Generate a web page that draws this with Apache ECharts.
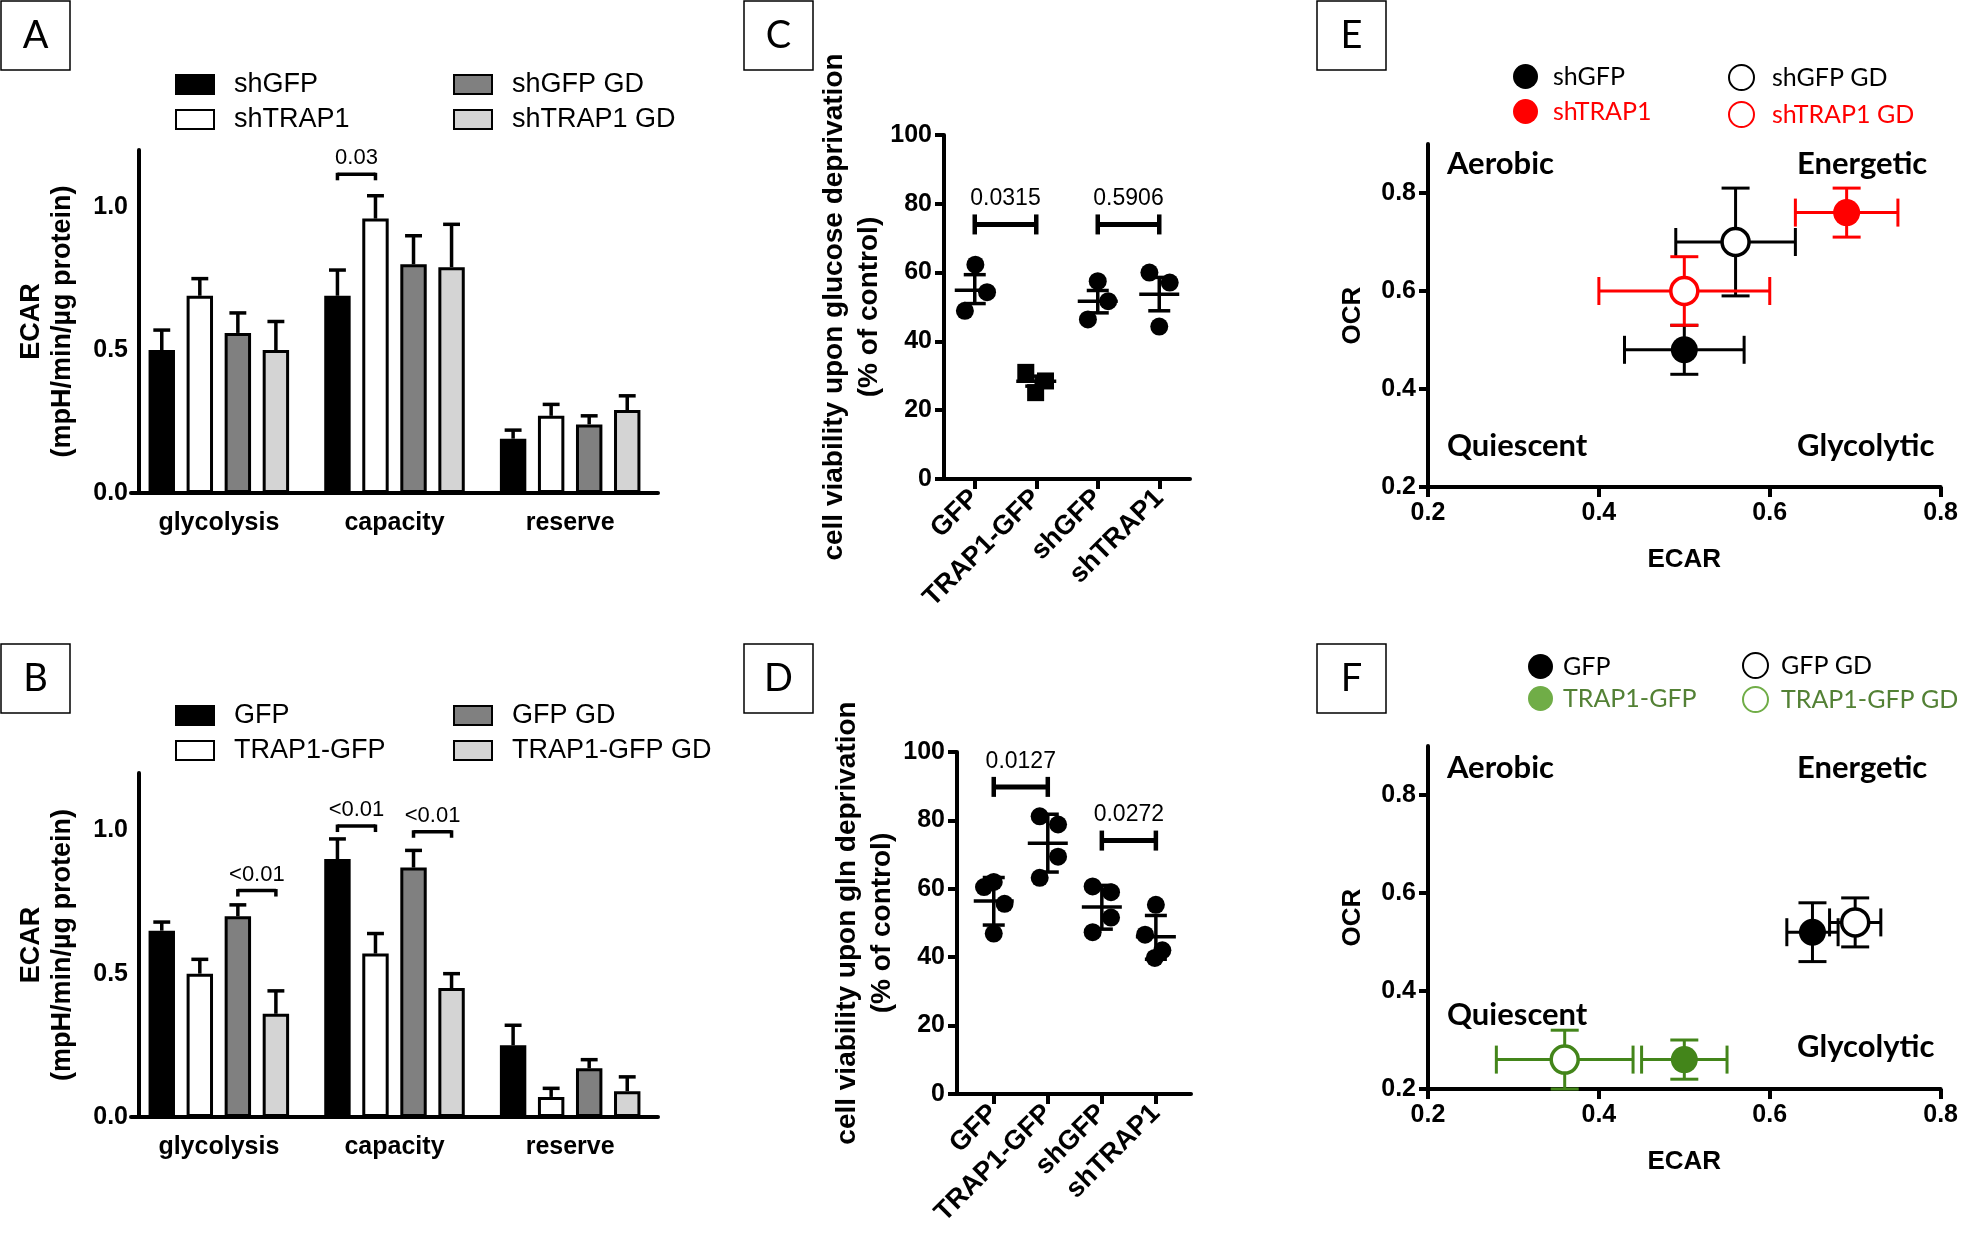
<!DOCTYPE html>
<html><head><meta charset="utf-8">
<script src="https://cdn.jsdelivr.net/npm/echarts@6/dist/echarts.min.js"></script>
<style>html,body{margin:0;padding:0;background:#fff}#c{width:1961px;height:1237px}</style>
</head><body><div id="c"></div>
<script>
// ---------------- DATA ----------------
const barCategories = ['glycolysis', 'capacity', 'reserve'];
// Panel A
const aNames = ['shGFP', 'shTRAP1', 'shGFP GD', 'shTRAP1 GD'];
const aMeans = [[0.50, 0.69, 0.19], [0.69, 0.96, 0.27], [0.56, 0.80, 0.24], [0.50, 0.79, 0.29]];
const aErrors = [[0.07, 0.09, 0.03], [0.06, 0.08, 0.04], [0.07, 0.10, 0.03], [0.10, 0.15, 0.05]];
const aSigPairs = [[1, 0, 1, 1.115]];          // [category, bar1, bar2, y]
const aSigLabels = ['0.03'];
// Panel B
const bNames = ['GFP', 'TRAP1-GFP', 'GFP GD', 'TRAP1-GFP GD'];
const bMeans = [[0.65, 0.90, 0.25], [0.50, 0.57, 0.07], [0.70, 0.87, 0.17], [0.36, 0.45, 0.09]];
const bErrors = [[0.03, 0.07, 0.07], [0.05, 0.07, 0.03], [0.04, 0.06, 0.03], [0.08, 0.05, 0.05]];
const bSigPairs = [[0, 2, 3, 0.79], [1, 0, 1, 1.015], [1, 2, 3, 0.995]];
const bSigLabels = ['<0.01', '<0.01', '<0.01'];
// Panel C
const cCategories = ['GFP', 'TRAP1-GFP', 'shGFP', 'shTRAP1'];
const cValues = [[62.3, 54.3, 48.9], [31.0, 28.5, 25.1], [57.5, 51.7, 46.4], [60.0, 57.1, 44.3]];
const cJitter = [[0.01, 0.20, -0.16], [-0.17, 0.15, -0.01], [0.0, 0.17, -0.16], [-0.16, 0.17, 0.0]];
const cMeans = [54.9, 28.4, 51.7, 53.7];
const cLow = [51.0, 27.0, 48.3, 48.9];
const cHigh = [59.4, 29.9, 54.8, 58.6];
const cSigPairs = [[1, 2, 74], [3, 4, 74]];
const cSigLabels = ['0.0315', '0.5906'];
// Panel D
const dCategories = ['GFP', 'TRAP1-GFP', 'shGFP', 'shTRAP1'];
const dValues = [[60.5, 62.0, 55.6, 46.9], [81.2, 78.8, 69.4, 63.2], [60.7, 59.0, 51.6, 47.3], [55.3, 46.6, 42.0, 39.8]];
const dJitter = [[-0.18, 0.0, 0.2, 0.0], [-0.15, 0.19, 0.19, -0.15], [-0.17, 0.17, 0.17, -0.17], [0.0, -0.2, 0.12, -0.02]];
const dMeans = [56.4, 73.3, 54.7, 46.0];
const dLow = [49.4, 64.9, 48.2, 39.4];
const dHigh = [63.3, 81.8, 61.0, 52.2];
const dSigPairs = [[1, 2, 89.8], [3, 4, 74.1]];
const dSigLabels = ['0.0127', '0.0272'];
// Panel E
const eNames = ['shGFP', 'shTRAP1', 'shGFP GD', 'shTRAP1 GD'];
const eEcar = [0.50, 0.69, 0.56, 0.50];
const eOcr = [0.48, 0.76, 0.70, 0.60];
const eEcarErr = [0.07, 0.06, 0.07, 0.10];
const eOcrErr = [0.05, 0.05, 0.11, 0.07];
// Panel F
const fNames = ['GFP', 'TRAP1-GFP', 'GFP GD', 'TRAP1-GFP GD'];
const fEcar = [0.65, 0.50, 0.70, 0.36];
const fOcr = [0.52, 0.26, 0.54, 0.26];
const fEcarErr = [0.03, 0.05, 0.03, 0.08];
const fOcrErr = [0.06, 0.04, 0.05, 0.06];
const quadrantLabels = ['Aerobic', 'Energetic', 'Quiescent', 'Glycolytic'];

// ---------------- STYLE ----------------
const FONT = 'Liberation Sans';
const QFONT = 'Lato';
const barColors = ['#000000', '#ffffff', '#808080', '#d4d4d4'];
const RED = '#ff0000', GREEN = '#43851a', GREEN_L = '#70ad47', GREEN_T = '#538135';
const strip = n => n.split('|')[1];

const chart = echarts.init(document.getElementById('c'), null, {renderer: 'canvas', width: 1961, height: 1237});

const axisLine = {lineStyle: {color: '#000', width: 4}};
const axisTick = (len) => ({length: len, lineStyle: {color: '#000', width: 4}});
const lbl = (size, extra) => Object.assign({color: '#000', fontFamily: FONT, fontWeight: 'bold', fontSize: size}, extra || {});

const grids = [
  {left: 131, top: 150, width: 527, height: 343},
  {left: 131, top: 773, width: 527, height: 344},
  {left: 944, top: 135, width: 246, height: 344},
  {left: 957, top: 752, width: 234, height: 342},
  {left: 1428, top: 144, width: 514, height: 343},
  {left: 1428, top: 746, width: 514, height: 343}
];

function catX(gi) {
  return {type: 'category', gridIndex: gi, data: barCategories, boundaryGap: true,
    axisLine, axisTick: Object.assign(axisTick(10), {alignWithLabel: true}),
    axisLabel: lbl(25, {margin: 18}), splitLine: {show: false}};
}
function ecarY(gi) {
  return {type: 'value', gridIndex: gi, min: 0, max: 1.2, offset: -8,
    name: 'ECAR\n(mpH/min/µg protein)', nameLocation: 'middle', nameRotate: 90, nameGap: 61,
    nameTextStyle: lbl(27, {lineHeight: 31}),
    axisLine: Object.assign({show: true}, axisLine),
    axisTick: Object.assign(axisTick(8), {customValues: [0, 0.5, 1.0]}),
    axisLabel: lbl(25, {margin: 11, customValues: [0, 0.5, 1.0], formatter: v => v.toFixed(1)}),
    splitLine: {show: false}};
}
function viaX(gi, min, max, cats) {
  return {type: 'value', gridIndex: gi, min, max,
    axisLine, axisTick: Object.assign(axisTick(10), {customValues: [1, 2, 3, 4]}),
    axisLabel: lbl(27, {rotate: 45, margin: 15, customValues: [1, 2, 3, 4], formatter: v => cats[Math.round(v) - 1]}),
    splitLine: {show: false}};
}
function viaY(gi, name, gap) {
  return {type: 'value', gridIndex: gi, min: 0, max: 100, interval: 20,
    name, nameLocation: 'middle', nameRotate: 90, nameGap: gap,
    nameTextStyle: lbl(28, {lineHeight: 35}),
    axisLine: Object.assign({show: true}, axisLine), axisTick: axisTick(9),
    axisLabel: lbl(25, {margin: 12}), splitLine: {show: false}};
}
function phX(gi) {
  return {type: 'value', gridIndex: gi, min: 0.2, max: 0.8, interval: 0.2,
    name: 'ECAR', nameLocation: 'middle', nameGap: 60, nameTextStyle: lbl(26),
    axisLine, axisTick: axisTick(10),
    axisLabel: lbl(25, {margin: 14, formatter: v => v.toFixed(1)}), splitLine: {show: false}};
}
function phY(gi) {
  return {type: 'value', gridIndex: gi, min: 0.2, max: 0.9,
    name: 'OCR', nameLocation: 'middle', nameRotate: 90, nameGap: 62, nameTextStyle: lbl(26),
    axisLine: Object.assign({show: true}, axisLine),
    axisTick: Object.assign(axisTick(9), {customValues: [0.2, 0.4, 0.6, 0.8]}),
    axisLabel: lbl(25, {margin: 12, customValues: [0.2, 0.4, 0.6, 0.8], formatter: v => v.toFixed(1)}),
    splitLine: {show: false}};
}

// ------------ renderers ------------
const BAR_GAP = 0.44, CAT_GAP = 0.2;
function barCenter(api, c, s) {
  const B = api.size([1, 0])[0];
  const w = (1 - CAT_GAP) * B / (4 + 3 * BAR_GAP);
  return {x: api.coord([c, 0])[0] - (1 - CAT_GAP) / 2 * B + w / 2 + s * (1 + BAR_GAP) * w, w};
}
function renderBarErr(params, api) {
  const c = api.value(0), s = api.value(1), v = api.value(2), t = api.value(3);
  const bc = barCenter(api, c, s);
  const y1 = api.coord([c, v])[1], y2 = api.coord([c, t])[1];
  const cw = 0.32 * bc.w;
  const st = {stroke: '#000', lineWidth: 3.5};
  return {type: 'group', children: [
    {type: 'line', shape: {x1: bc.x, y1: y1, x2: bc.x, y2: y2}, style: st},
    {type: 'line', shape: {x1: bc.x - cw, y1: y2, x2: bc.x + cw, y2: y2}, style: st}
  ]};
}
function makeBarSig(labels) {
  return function (params, api) {
    const c = api.value(0), s1 = api.value(1), s2 = api.value(2), y = api.value(3);
    const p1 = barCenter(api, c, s1), p2 = barCenter(api, c, s2);
    const py = api.coord([c, y])[1];
    const st = {stroke: '#000', lineWidth: 3.5};
    return {type: 'group', children: [
      {type: 'line', shape: {x1: p1.x, y1: py, x2: p2.x, y2: py}, style: st},
      {type: 'line', shape: {x1: p1.x, y1: py - 1.5, x2: p1.x, y2: py + 6}, style: st},
      {type: 'line', shape: {x1: p2.x, y1: py - 1.5, x2: p2.x, y2: py + 6}, style: st},
      {type: 'text', x: (p1.x + p2.x) / 2, y: py - 5, style: {text: labels[params.dataIndex], fill: '#000',
        font: '22px "Liberation Sans"', align: 'center', verticalAlign: 'bottom'}}
    ]};
  };
}
function renderMean(params, api) {
  const x = api.value(0);
  const pm = api.coord([x, api.value(1)]), pl = api.coord([x, api.value(2)]), ph = api.coord([x, api.value(3)]);
  const st = {stroke: '#000', lineWidth: 3.5};
  return {type: 'group', children: [
    {type: 'line', shape: {x1: pm[0], y1: pl[1], x2: pm[0], y2: ph[1]}, style: st},
    {type: 'line', shape: {x1: pm[0] - 20, y1: pm[1], x2: pm[0] + 20, y2: pm[1]}, style: st},
    {type: 'line', shape: {x1: pm[0] - 11, y1: pl[1], x2: pm[0] + 11, y2: pl[1]}, style: st},
    {type: 'line', shape: {x1: pm[0] - 11, y1: ph[1], x2: pm[0] + 11, y2: ph[1]}, style: st}
  ]};
}
function makeViaSig(labels) {
  return function (params, api) {
    const p1 = api.coord([api.value(0), api.value(2)]), p2 = api.coord([api.value(1), api.value(2)]);
    const st = {stroke: '#000', lineWidth: 5};
    return {type: 'group', children: [
      {type: 'line', shape: {x1: p1[0], y1: p1[1], x2: p2[0], y2: p2[1]}, style: st},
      {type: 'line', shape: {x1: p1[0], y1: p1[1] - 10, x2: p1[0], y2: p1[1] + 10}, style: {stroke: '#000', lineWidth: 4.5}},
      {type: 'line', shape: {x1: p2[0], y1: p2[1] - 10, x2: p2[0], y2: p2[1] + 10}, style: {stroke: '#000', lineWidth: 4.5}},
      {type: 'text', x: (p1[0] + p2[0]) / 2, y: p1[1] - 14, style: {text: labels[params.dataIndex], fill: '#000',
        font: '23px "Liberation Sans"', align: 'center', verticalAlign: 'bottom'}}
    ]};
  };
}
function makeXYErr(color) {
  return function (params, api) {
    const x = api.value(0), y = api.value(1), xe = api.value(2), ye = api.value(3);
    const l = api.coord([x - xe, y]), r = api.coord([x + xe, y]), t = api.coord([x, y + ye]), b = api.coord([x, y - ye]);
    const st = {stroke: color, lineWidth: 3};
    const cap = 14;
    return {type: 'group', children: [
      {type: 'line', shape: {x1: l[0], y1: l[1], x2: r[0], y2: r[1]}, style: st},
      {type: 'line', shape: {x1: t[0], y1: t[1], x2: b[0], y2: b[1]}, style: st},
      {type: 'line', shape: {x1: l[0], y1: l[1] - cap, x2: l[0], y2: l[1] + cap}, style: st},
      {type: 'line', shape: {x1: r[0], y1: r[1] - cap, x2: r[0], y2: r[1] + cap}, style: st},
      {type: 'line', shape: {x1: t[0] - cap, y1: t[1], x2: t[0] + cap, y2: t[1]}, style: st},
      {type: 'line', shape: {x1: b[0] - cap, y1: b[1], x2: b[0] + cap, y2: b[1]}, style: st}
    ]};
  };
}

// ------------ series ------------
const series = [];
function addBars(prefix, names, means, errs, gi, sigPairs, sigLabels) {
  names.forEach((n, s) => {
    series.push({type: 'bar', name: prefix + '|' + n, xAxisIndex: gi, yAxisIndex: gi, data: means[s],
      barGap: (BAR_GAP * 100) + '%', barCategoryGap: (CAT_GAP * 100) + '%',
      itemStyle: {color: barColors[s], borderColor: '#000', borderWidth: 3}, silent: true, z: 2});
  });
  const ed = [];
  names.forEach((n, s) => means[s].forEach((v, c) => ed.push([c, s, v, v + errs[s][c]])));
  series.push({type: 'custom', xAxisIndex: gi, yAxisIndex: gi, data: ed, encode: {x: 0, y: 3}, renderItem: renderBarErr, silent: true, z: 3});
  series.push({type: 'custom', xAxisIndex: gi, yAxisIndex: gi, data: sigPairs, encode: {x: 0, y: 3}, renderItem: makeBarSig(sigLabels), silent: true, z: 3});
}
addBars('A', aNames, aMeans, aErrors, 0, aSigPairs, aSigLabels);
addBars('B', bNames, bMeans, bErrors, 1, bSigPairs, bSigLabels);

function addVia(values, jitter, means, lo, hi, gi, sigPairs, sigLabels, squareGroup) {
  const pts = [];
  values.forEach((g, i) => g.forEach((v, j) => pts.push({value: [i + 1 + jitter[i][j], v],
    symbol: i === squareGroup ? 'rect' : 'circle', symbolSize: i === squareGroup ? 17 : 18})));
  series.push({type: 'scatter', xAxisIndex: gi, yAxisIndex: gi, data: pts, itemStyle: {color: '#000', opacity: 1}, silent: true, z: 2});
  series.push({type: 'custom', xAxisIndex: gi, yAxisIndex: gi, data: means.map((m, i) => [i + 1, m, lo[i], hi[i]]),
    encode: {x: 0, y: [1, 2, 3]}, renderItem: renderMean, silent: true, z: 3});
  series.push({type: 'custom', xAxisIndex: gi, yAxisIndex: gi, data: sigPairs, encode: {x: [0, 1], y: 2},
    renderItem: makeViaSig(sigLabels), silent: true, z: 3});
}
addVia(cValues, cJitter, cMeans, cLow, cHigh, 2, cSigPairs, cSigLabels, 1);
addVia(dValues, dJitter, dMeans, dLow, dHigh, 3, dSigPairs, dSigLabels, -1);

function addPheno(prefix, names, xs, ys, xe, ye, gi, styles) {
  names.forEach((n, i) => {
    const st = styles[i];
    series.push({type: 'custom', xAxisIndex: gi, yAxisIndex: gi, data: [[xs[i], ys[i], xe[i], ye[i]]],
      encode: {x: 0, y: 1}, renderItem: makeXYErr(st.line), silent: true, z: 2 + i * 2});
    series.push({type: 'scatter', name: prefix + '|' + n, xAxisIndex: gi, yAxisIndex: gi, data: [[xs[i], ys[i]]],
      symbol: 'circle', symbolSize: 27,
      itemStyle: st.open ? {color: '#fff', borderColor: st.line, borderWidth: 3.5, opacity: 1} : {color: st.fill, borderWidth: 0, opacity: 1},
      silent: true, z: 3 + i * 2});
  });
}
addPheno('E', eNames, eEcar, eOcr, eEcarErr, eOcrErr, 4, [
  {fill: '#000', line: '#000'}, {fill: RED, line: RED}, {open: true, line: '#000'}, {open: true, line: RED}]);
addPheno('F', fNames, fEcar, fOcr, fEcarErr, fOcrErr, 5, [
  {fill: '#000', line: '#000'}, {fill: GREEN, line: GREEN}, {open: true, line: '#000'}, {open: true, line: GREEN}]);

// ------------ legends ------------
function barLegend(left, top, names, prefix, pad) {
  return {orient: 'vertical', left, top, padding: 0, icon: 'rect', itemWidth: 38, itemHeight: 19, itemGap: 8,
    selectedMode: false, formatter: strip, data: names.map(n => prefix + '|' + n),
    textStyle: {fontFamily: FONT, fontSize: 27, color: '#000', lineHeight: 26, padding: [0, 0, 0, pad]}};
}
function dotLegend(left, top, gap, items, pad) {
  return {orient: 'vertical', left, top, padding: 0, itemWidth: 25, itemHeight: 25, itemGap: gap,
    selectedMode: false, formatter: strip, data: items,
    itemStyle: {opacity: 1},
    textStyle: {fontFamily: QFONT, fontSize: 25, color: '#000', lineHeight: 25, padding: [0, 0, 0, pad]}};
}
const legends = [
  barLegend(175, 71, aNames.slice(0, 2), 'A', 15),
  barLegend(453, 71, aNames.slice(2), 'A', 15),
  barLegend(175, 702, bNames.slice(0, 2), 'B', 15),
  barLegend(453, 702, bNames.slice(2), 'B', 15),
  dotLegend(1513, 64, 10, [{name: 'E|shGFP'}, {name: 'E|shTRAP1', textStyle: {color: RED}}], 10),
  dotLegend(1728, 64, 10, [{name: 'E|shGFP GD'}, {name: 'E|shTRAP1 GD', textStyle: {color: RED}}], 13),
  dotLegend(1528, 654, 7, [{name: 'F|GFP'}, {name: 'F|TRAP1-GFP', itemStyle: {color: GREEN_L}, textStyle: {color: GREEN_T}}], 5),
  dotLegend(1742, 652, 7, [{name: 'F|GFP GD'}, {name: 'F|TRAP1-GFP GD', itemStyle: {borderColor: GREEN_L}, textStyle: {color: GREEN_T}}], 8)
];

// ------------ graphic (panel boxes, quadrant labels) ------------
function box(letter, x, y) {
  return {type: 'group', x, y, children: [
    {type: 'rect', shape: {x: 0, y: 0, width: 69, height: 69}, style: {fill: 'none', stroke: '#000', lineWidth: 1.5}},
    {type: 'text', x: 34.5, y: 35, style: {text: letter, fill: '#000', font: '38px Lato', align: 'center', verticalAlign: 'middle'}}
  ]};
}
function quad(text, x, y) {
  return {type: 'text', x, y, style: {text, fill: '#000', font: 'bold 31px Lato', align: 'left', verticalAlign: 'middle'}};
}
const graphic = [
  box('A', 1, 1), box('B', 1, 644), box('C', 744, 1), box('D', 744, 644), box('E', 1317, 1), box('F', 1317, 644),
  quad(quadrantLabels[0], 1447, 164), quad(quadrantLabels[1], 1797, 164), quad(quadrantLabels[2], 1447, 446), quad(quadrantLabels[3], 1797, 446),
  quad(quadrantLabels[0], 1447, 768), quad(quadrantLabels[1], 1797, 768), quad(quadrantLabels[2], 1447, 1015), quad(quadrantLabels[3], 1797, 1047)
];

chart.setOption({
  animation: false,
  backgroundColor: '#fff',
  textStyle: {fontFamily: FONT},
  grid: grids,
  xAxis: [catX(0), catX(1), viaX(2, 0.5, 4.5, cCategories), viaX(3, 0.32, 4.65, dCategories), phX(4), phX(5)],
  yAxis: [ecarY(0), ecarY(1),
    viaY(2, 'cell viability upon glucose deprivation\n(% of control)', 36),
    viaY(3, 'cell viability upon gln deprivation\n(% of control)', 54),
    phY(4), phY(5)],
  legend: legends,
  graphic,
  series
});
</script></body></html>
